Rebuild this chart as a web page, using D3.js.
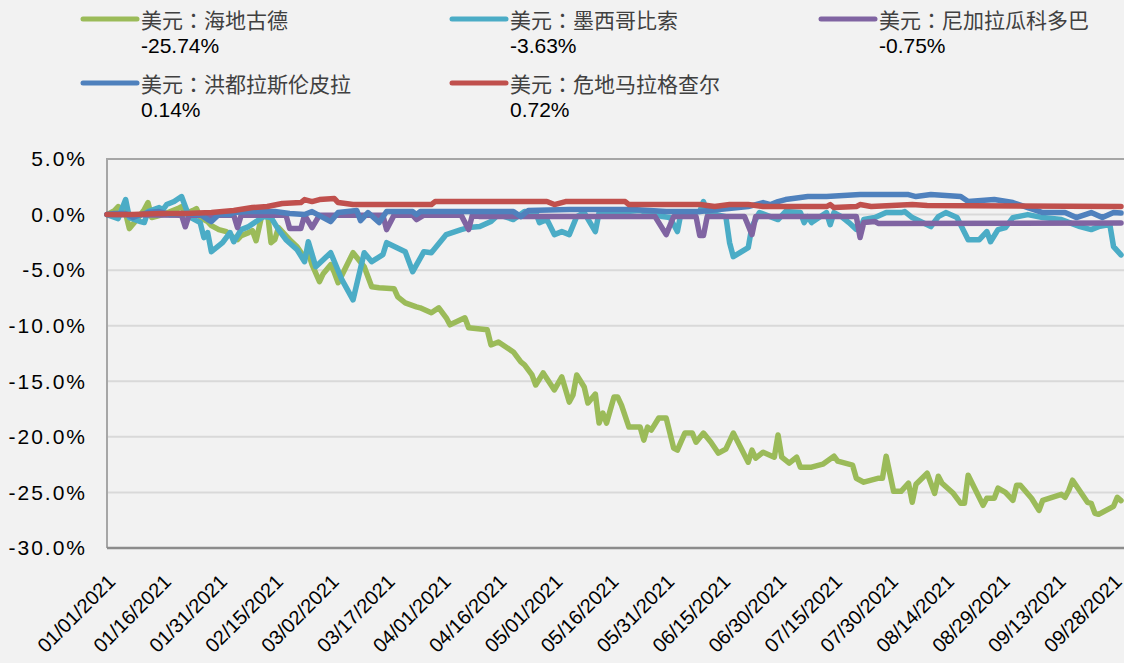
<!DOCTYPE html>
<html>
<head>
<meta charset="utf-8">
<script src="https://cdn.jsdelivr.net/npm/d3@7"></script>
<style>
  body { margin: 0; background: #f2f2f2; }
  svg { display: block; font-family: "Liberation Sans", Arial, sans-serif; }
</style>
</head>
<body>
<div id="chart"></div>
<script>
// days counted from 01/01/2021
const tickDays = d3.range(0, 271, 15);
const yTicks = [5, 0, -5, -10, -15, -20, -25, -30];

const seriesNames = ["美元：海地古德", "美元：墨西哥比索", "美元：尼加拉瓜科多巴", "美元：洪都拉斯伦皮拉", "美元：危地马拉格查尔"];
const seriesLast = ["-25.74%", "-3.63%", "-0.75%", "0.14%", "0.72%"];
const seriesColors = ["#9bbb59", "#4bacc6", "#8064a2", "#4f81bd", "#c0504d"];

const haitiDays = [0,2,3,5,6,8,10,11,12,14,15,17,19,20,21,23,24,25,27,28,30,32,34,35,36,38,39,40,42,43,44,45,46,48,49,51,53,54,55,57,58,60,61,62,64,66,69,71,73,77,78,80,83,84,87,89,91,92,96,97,102,103,105,109,111,112,114,115,117,120,122,124,125,126,128,129,131,132,133,134,136,137,138,140,143,144,145,146,148,150,152,153,155,157,158,160,162,164,166,168,172,173,174,176,179,180,181,183,185,186,189,192,195,196,200,201,203,207,208,209,211,213,215,216,217,220,222,223,224,227,229,230,231,235,236,238,239,241,243,244,245,248,250,251,256,257,258,259,263,264,265,266,270,271,272];
const haitiVals = [0,0.36,0.72,0.09,-1.26,-0.45,0.45,1.08,-0.27,-0.09,0,0.27,0.54,0.72,0.09,0.36,0.54,-0.27,-0.63,-0.99,-1.35,-1.53,-2.07,-2.26,-1.89,-1.62,-1.44,-2.35,0.63,0.27,-2.53,-2.26,-1.17,-1.89,-2.26,-2.89,-3.88,-3.43,-4.51,-6.04,-5.32,-4.51,-5.23,-6.13,-4.78,-3.43,-4.69,-6.49,-6.58,-6.67,-7.40,-7.94,-8.30,-8.39,-8.84,-8.39,-9.29,-9.92,-9.29,-10.19,-10.37,-11.73,-11.46,-12.36,-13.26,-13.53,-14.43,-15.33,-14.25,-15.78,-14.61,-16.87,-16.24,-14.43,-15.51,-16.96,-16.15,-18.76,-17.86,-18.76,-16.42,-16.42,-17.14,-19.12,-19.12,-20.29,-19.12,-19.39,-18.31,-18.31,-21.02,-21.20,-19.66,-19.66,-20.48,-19.66,-20.48,-21.47,-21.11,-19.66,-22.28,-21.20,-21.92,-21.38,-21.83,-19.84,-21.83,-22.37,-21.83,-22.73,-22.73,-22.46,-21.74,-22.19,-22.55,-23.72,-24.08,-23.72,-23.72,-21.74,-24.90,-24.90,-24.17,-25.89,-24.26,-23.27,-25.08,-23.54,-24.17,-25.08,-25.98,-25.98,-23.45,-26.16,-25.53,-25.53,-24.62,-24.99,-25.71,-24.35,-24.35,-25.53,-26.61,-25.71,-25.17,-25.44,-24.80,-23.90,-25.89,-25.98,-26.88,-26.97,-26.25,-25.44,-25.74];

const mexicoDays = [0,3,5,6,9,10,11,14,15,16,18,20,21,22,25,26,27,28,31,33,34,36,38,42,44,46,48,51,53,54,56,60,63,66,69,71,74,75,80,82,85,87,91,95,97,100,103,105,109,112,115,116,118,120,122,124,126,128,131,132,136,143,149,151,153,154,159,160,161,166,167,168,172,173,175,180,182,186,187,188,189,193,194,195,197,199,201,202,203,206,209,213,214,216,221,223,225,228,231,234,236,237,239,241,243,247,251,256,261,264,266,269,270,272];
const mexicoVals = [0,-0.36,1.35,-0.27,-0.63,-0.72,0.27,0.63,0.45,0.90,1.17,1.62,0.72,-0.18,-0.72,-2.07,-1.62,-3.34,-2.53,-1.62,-2.44,-1.35,-1.08,-0.18,-0.27,-1.35,-2.26,-3.16,-4.24,-2.44,-4.69,-3.43,-5.86,-7.67,-3.43,-4.24,-3.61,-2.53,-3.34,-5.14,-3.34,-3.43,-1.80,-1.35,-1.17,-1.08,-0.63,0,-0.45,0.27,0.18,-0.72,-0.45,-1.80,-1.53,-1.80,-0.18,0.18,-1.53,0.18,0.18,0.36,-0.18,-0.27,-1.53,0.18,0.27,1.17,0.18,-0.18,-2.53,-3.79,-2.98,-1.08,0.18,-0.45,0.27,0.18,-0.72,-0.18,-0.72,0.18,-0.90,0.18,-0.18,-0.72,-1.35,-1.35,-0.45,-0.27,0.18,0.18,0.27,-0.27,-1.08,-0.18,0.18,-0.27,-2.26,-2.26,-1.53,-2.44,-1.35,-1.17,-0.27,0,-0.27,-0.45,-1.08,-1.35,-1.08,-0.90,-2.89,-3.63];

const nicaraguaDays = [0,20,21,22,34,35,36,48,49,52,53,55,57,74,75,77,82,83,85,95,97,98,100,147,150,152,158,159,160,161,171,173,174,201,202,203,206,207,272];
const nicaraguaVals = [0,-0.05,-1.10,-0.05,-0.05,-1.17,-0.05,-0.05,-1.26,-1.26,-0.05,-1.17,-0.05,-0.05,-1.35,-0.05,-0.05,-0.45,-0.05,-0.05,-1.35,-0.05,-0.18,-0.18,-1.80,-0.18,-0.18,-1.89,-1.89,-0.18,-0.18,-1.80,-0.18,-0.18,-2.07,-0.72,-0.63,-0.81,-0.75];

const hondurasDays = [0,2,5,7,9,11,14,17,20,25,27,28,30,33,34,38,45,49,53,55,60,62,67,68,70,73,75,82,83,84,109,111,113,124,141,150,159,172,176,178,180,182,188,193,202,215,217,221,229,231,238,243,247,251,257,260,264,267,270,272];
const hondurasVals = [0,0.09,0.09,-0.27,0,0.18,0.27,0,0.09,0,-0.45,-0.63,0,0,0.18,0.27,0.27,0.09,0,0.27,-0.63,0.18,0.36,-0.54,0.18,-0.72,0.27,0.27,0,0.27,0.27,-0.18,0.36,0.45,0.45,0.27,0.27,0.72,1.08,0.90,1.17,1.35,1.62,1.62,1.80,1.80,1.62,1.80,1.62,1.17,1.35,1.08,0.63,0.18,0.18,-0.27,0.18,-0.27,0.18,0.14];

const costaRicaDays = [0,7,14,21,28,34,39,43,47,52,53,55,57,61,62,66,87,88,118,120,123,139,140,159,163,167,172,176,193,194,195,201,202,205,216,220,272];
const costaRicaVals = [0,0,0.09,0.09,0.18,0.36,0.63,0.72,0.99,1.08,1.35,1.17,1.35,1.44,1.08,0.90,0.90,1.17,1.17,0.90,1.17,1.17,0.90,0.90,0.72,0.90,0.90,0.72,0.72,0.90,0.63,0.72,0.90,0.72,0.90,0.81,0.72];

const W = 1124, H = 663;
const plot = {left: 107, right: 1126, top: 159, bottom: 548};
const start = new Date(Date.UTC(2021, 0, 1));
const day = n => d3.utcDay.offset(start, n);

const svg = d3.select("#chart").append("svg")
  .attr("width", W)
  .attr("height", H);

svg.append("rect").attr("width", W).attr("height", H).attr("fill", "#f2f2f2");

const x = d3.scaleUtc()
  .domain([start, day(273)])
  .range([plot.left, plot.left + 273 * 3.728]);
const y = d3.scaleLinear([-30, 5], [plot.bottom, plot.top]);

// gridlines
svg.append("g")
  .selectAll("line")
  .data(yTicks.filter(v => v > -30 && v < 5))
  .join("line")
    .attr("x1", plot.left).attr("x2", plot.right)
    .attr("y1", d => y(d)).attr("y2", d => y(d))
    .attr("stroke", "#d9d9d9")
    .attr("stroke-width", 2);

// plot frame (left + top)
svg.append("path")
  .attr("d", `M${plot.right},${plot.top}H${plot.left}V${plot.bottom}`)
  .attr("fill", "none")
  .attr("stroke", "#a6a6a6")
  .attr("stroke-width", 2);

// y axis
svg.append("g")
  .attr("transform", `translate(${plot.left},0)`)
  .call(d3.axisLeft(y).tickValues(yTicks).tickSize(0).tickFormat(d => d.toFixed(1) + "%"))
  .call(g => g.select(".domain").remove())
  .call(g => g.selectAll("text")
    .attr("x", -20)
    .attr("fill", "#000")
    .style("font-size", "21px")
    .style("letter-spacing", "2px"));

// x axis
svg.append("g")
  .attr("transform", `translate(0,${plot.bottom})`)
  .call(d3.axisBottom(x).tickValues(tickDays.map(day)).tickSize(0).tickFormat(d3.utcFormat("%m/%d/%Y")))
  .call(g => g.select(".domain")
    .attr("d", `M${plot.left},0H${plot.right}`)
    .attr("stroke", "#8c8c8c")
    .attr("stroke-width", 2.5))
  .call(g => g.selectAll("text")
    .attr("y", 0).attr("dy", 0)
    .attr("transform", "translate(9,35) rotate(-45)")
    .attr("text-anchor", "end")
    .attr("fill", "#000")
    .style("font-size", "20px"));

// series
const series = [
  [haitiDays, haitiVals],
  [mexicoDays, mexicoVals],
  [nicaraguaDays, nicaraguaVals],
  [hondurasDays, hondurasVals],
  [costaRicaDays, costaRicaVals]
].map(([ds, vs]) => ds.map((d, i) => ({date: day(d), v: vs[i]})));

const line = d3.line()
  .x(d => x(d.date))
  .y(d => y(d.v));

svg.append("g")
  .selectAll("path")
  .data(series)
  .join("path")
    .attr("d", line)
    .attr("fill", "none")
    .attr("stroke", (d, i) => seriesColors[i])
    .attr("stroke-width", 5.5)
    .attr("stroke-linejoin", "round")
    .attr("stroke-linecap", "round");

// legend
const legCols = [83, 452, 821];
const legRows = [19, 83];
const legend = svg.append("g")
  .selectAll("g")
  .data(seriesNames)
  .join("g")
    .attr("transform", (d, i) => `translate(${legCols[i % 3]},${legRows[Math.floor(i / 3)]})`);

legend.append("line")
  .attr("x1", 0).attr("x2", 54)
  .attr("stroke", (d, i) => seriesColors[i])
  .attr("stroke-width", 5)
  .attr("stroke-linecap", "round");

legend.append("text")
  .attr("x", 58).attr("y", 9)
  .attr("fill", "#404040")
  .style("font-family", "'Noto Sans CJK TC', 'Noto Sans CJK SC', sans-serif")
  .style("font-size", "21px")
  .text(d => d);

legend.append("text")
  .attr("x", 58).attr("y", 34)
  .attr("fill", "#000")
  .style("font-size", "21px")
  .text((d, i) => seriesLast[i]);
</script>
</body>
</html>
